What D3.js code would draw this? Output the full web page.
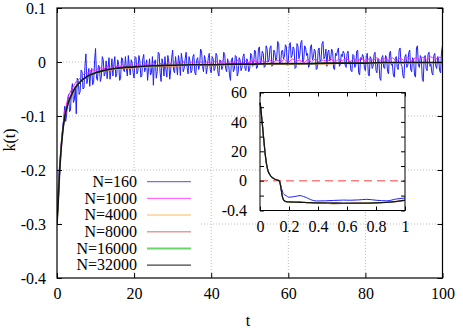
<!DOCTYPE html>
<html lang="en">
<head>
<meta charset="UTF-8">
<title>k(t)</title>
<script src="https://cdn.jsdelivr.net/npm/d3@7"></script>
<style>
    body{ margin:0; background:#fff; }
    svg text{ font-family:"Liberation Serif", "Times New Roman", "DejaVu Serif", serif; font-size:16px; fill:#000; }
    .grid line{ stroke:#bdbdbd; stroke-dasharray:1,2; stroke-width:1; }
    .tick line{ stroke:#000; }
    .curve{ fill:none; stroke-linejoin:round; }
</style>
</head>
<body>
<script>
    // legend / series
    const seriesNames = ["N=160", "N=1000", "N=4000", "N=8000", "N=16000", "N=32000"];
    const seriesColors = ["#1f1fff", "#ff22ff", "#ffaa33", "#e08484", "#44cc44", "#151515"];
    const seriesWidths = [1, 1, 1, 1.5, 2, 1.3];

    const xTicks = [0, 20, 40, 60, 80, 100];
    const yTicks = [0.1, 0, -0.1, -0.2, -0.3, -0.4];

    // N=160, sampled every 0.25 in t
    const tBlue = d3.range(0, 100.1, 0.25);
    const kBlue = [
        -0.290, -0.245, -0.205, -0.185, -0.160, -0.140, -0.118, -0.105, -0.082, -0.110, -0.098, -0.070, -0.060, -0.092, -0.089, -0.052, -0.040, -0.075, -0.070, -0.045,
        -0.096, -0.030, -0.035, -0.060, -0.055, -0.015, -0.018, -0.050, -0.048, -0.008, 0.015, -0.040, -0.030, -0.012, -0.045, -0.020, -0.012, -0.042, -0.038, 0.002,
        0.025, -0.030, -0.034, -0.006, -0.008, -0.036, -0.028, 0.010, 0.004, -0.026, -0.020, 0.002, -0.031, -0.010, 0.008, -0.032, -0.015, 0.006, -0.026, -0.004,
        0.010, -0.028, -0.022, 0.004, -0.004, -0.034, -0.030, 0.008, 0.006, -0.016, -0.018, 0.010, -0.012, -0.026, 0.012, -0.008, -0.024, 0.004, -0.002, -0.020,
        -0.030, 0.010, 0.008, -0.022, -0.016, 0.012, 0.002, -0.028, -0.026, 0.006, 0.014, -0.018, -0.010, 0.004, -0.034, -0.012, 0.006, -0.024, -0.020, 0.010,
        -0.043, 0.000, 0.004, -0.030, -0.018, 0.018, 0.016, -0.020, -0.036, 0.006, -0.004, -0.026, 0.010, -0.014, -0.028, 0.012, 0.000, -0.032, -0.014, 0.008,
        0.022, -0.016, -0.020, 0.010, -0.006, -0.024, 0.012, 0.000, -0.025, 0.016, 0.004, -0.018, -0.012, 0.006, 0.018, -0.010, -0.022, 0.010, 0.002, -0.020,
        -0.016, 0.010, 0.014, -0.020, -0.024, 0.004, 0.008, -0.014, -0.006, 0.024, 0.020, -0.008, -0.018, 0.012, 0.004, -0.022, -0.010, 0.008, 0.016, -0.014,
        -0.020, 0.010, 0.006, -0.016, -0.012, 0.016, 0.012, -0.020, -0.026, 0.004, 0.002, -0.014, -0.008, 0.018, 0.014, -0.012, -0.018, 0.006, -0.002, -0.024,
        -0.034, 0.004, 0.008, -0.018, -0.014, 0.012, 0.010, -0.026, -0.020, 0.008, 0.004, -0.016, -0.010, 0.010, 0.015, -0.012, -0.016, 0.006, 0.000, -0.018,
        -0.012, 0.016, 0.012, -0.008, -0.004, 0.022, 0.020, -0.012, -0.010, 0.024, 0.028, -0.004, 0.002, 0.020, 0.016, -0.010, -0.008, 0.030, 0.024, 0.000,
        0.004, 0.026, 0.030, -0.008, -0.006, 0.022, 0.018, 0.002, 0.008, 0.038, 0.034, -0.002, -0.004, 0.020, 0.022, 0.006, 0.010, 0.032, 0.028, -0.006,
        0.002, 0.030, 0.036, 0.008, 0.012, 0.028, 0.024, -0.012, -0.010, 0.034, 0.030, 0.006, 0.014, 0.036, 0.040, 0.000, 0.004, 0.030, 0.026, 0.012,
        0.016, -0.010, -0.006, 0.028, 0.032, 0.004, 0.008, 0.024, 0.020, -0.014, -0.012, 0.022, 0.026, 0.000, 0.004, 0.034, 0.038, 0.006, 0.010, 0.024,
        -0.008, 0.018, 0.022, 0.002, 0.006, 0.024, 0.018, -0.012, -0.014, 0.016, 0.012, 0.020, 0.026, -0.008, -0.004, 0.014, 0.010, 0.020, 0.016, -0.006,
        -0.010, 0.016, 0.020, -0.004, 0.002, -0.016, -0.018, 0.014, 0.012, -0.010, -0.006, 0.020, 0.022, -0.020, -0.024, 0.008, 0.004, 0.014, 0.010, -0.012,
        -0.016, 0.012, 0.016, -0.022, -0.026, 0.010, 0.006, -0.012, -0.008, 0.014, 0.018, -0.016, -0.020, 0.006, 0.002, -0.030, -0.034, 0.008, 0.012, -0.010,
        -0.012, 0.012, 0.008, -0.018, -0.022, 0.016, 0.020, -0.006, -0.004, -0.024, -0.028, 0.006, 0.010, -0.010, -0.014, 0.022, 0.026, -0.004, -0.008, -0.026,
        -0.030, 0.010, 0.014, -0.010, -0.006, 0.018, 0.022, -0.014, -0.018, 0.008, 0.004, -0.024, -0.028, 0.026, 0.030, -0.006, -0.010, 0.012, 0.008, -0.030,
        -0.036, 0.008, 0.012, -0.012, -0.016, 0.014, 0.018, -0.008, -0.004, -0.020, -0.024, 0.012, 0.016, -0.008, -0.012, 0.010, 0.006, -0.016, -0.020, 0.020,
        0.030
    ];

    // N=1000, sampled every 1 in t
    const tMagenta = d3.range(0, 101, 1);
    const kMagenta = [
        -0.298, -0.158, -0.092, -0.062, -0.048, -0.036, -0.030, -0.022, -0.020, -0.014,
        -0.016, -0.010, -0.014, -0.008, -0.012, -0.006, -0.011, -0.005, -0.010, -0.004,
        -0.009, -0.003, -0.008, -0.002, -0.007, -0.001, -0.008, -0.002, -0.006, 0.000,
        -0.007, -0.001, -0.005, 0.001, -0.006, 0.000, -0.004, 0.002, -0.005, 0.001,
        -0.004, 0.002, -0.003, 0.003, -0.004, 0.001, -0.002, 0.004, -0.003, 0.002,
        -0.002, 0.004, -0.003, 0.003, -0.001, 0.005, -0.002, 0.004, 0.000, 0.005,
        -0.001, 0.006, 0.001, 0.004, -0.002, 0.005, 0.000, 0.006, -0.001, 0.004,
        0.001, 0.006, -0.001, 0.005, 0.002, 0.007, 0.000, 0.006, 0.002, 0.007,
        0.001, 0.006, 0.003, 0.008, 0.002, 0.007, 0.003, 0.008, 0.002, 0.007,
        0.003, 0.009, 0.002, 0.008, 0.004, 0.009, 0.003, 0.010, 0.004, 0.009,
        0.008
    ];

    // larger N, smooth curves
    const tSmooth = [0, 0.3, 0.6, 1, 1.5, 2, 2.5, 3, 4, 5, 6, 7, 8, 10, 12, 15, 20, 25, 30, 35, 40,
                     45, 50, 55, 60, 65, 70, 75, 80, 85, 90, 95, 100];
    const kOrange = [-0.301, -0.263, -0.216, -0.169, -0.129, -0.103, -0.087, -0.075, -0.058, -0.046,
                     -0.038, -0.032, -0.027, -0.021, -0.017, -0.014, -0.011, -0.009, -0.008, -0.006,
                     -0.007, -0.005, -0.006, -0.004, -0.005, -0.003, -0.004, -0.002, -0.003, -0.002,
                     -0.003, -0.001, -0.002];
    const kSalmon = [-0.300, -0.262, -0.215, -0.168, -0.128, -0.102, -0.086, -0.074, -0.057, -0.046,
                     -0.037, -0.031, -0.026, -0.020, -0.016, -0.013, -0.010, -0.008, -0.007, -0.006,
                     -0.005, -0.005, -0.004, -0.004, -0.003, -0.003, -0.003, -0.002, -0.002, -0.002,
                     -0.001, -0.001, -0.001];
    const kGreen = [-0.300, -0.262, -0.215, -0.168, -0.128, -0.102, -0.086, -0.074, -0.057, -0.045,
                    -0.037, -0.031, -0.026, -0.020, -0.016, -0.012, -0.009, -0.007, -0.006, -0.005,
                    -0.005, -0.004, -0.004, -0.003, -0.003, -0.003, -0.002, -0.002, -0.002, -0.001,
                    -0.001, -0.001, -0.001];
    const kBlack = [-0.300, -0.262, -0.215, -0.168, -0.128, -0.102, -0.086, -0.074, -0.057, -0.045,
                    -0.037, -0.031, -0.026, -0.020, -0.016, -0.012, -0.009, -0.007, -0.006, -0.005,
                    -0.005, -0.004, -0.004, -0.003, -0.003, -0.003, -0.002, -0.002, -0.002, -0.001,
                    -0.001, -0.001, -0.001];

    // inset (0 <= t <= 1)
    const insetXTicks = [0, 0.2, 0.4, 0.6, 0.8, 1];
    const insetYTicks = [60, 40, 20, 0, -0.4];
    const insetYMinor = [50, 30, 10, -0.2];
    const insetT = [0, 0.006, 0.012, 0.018, 0.023, 0.029, 0.034, 0.04, 0.046, 0.055, 0.069, 0.085,
                    0.103, 0.12, 0.133, 0.138, 0.143, 0.148, 0.152, 0.157, 0.161, 0.17, 0.179, 0.2,
                    0.24, 0.276, 0.3, 0.322, 0.35, 0.391, 0.45, 0.506, 0.575, 0.62, 0.68, 0.736,
                    0.8, 0.874, 0.943, 1.0];
    const insetBlue = [53, 49, 42.5, 36.5, 31, 25, 19.7, 14.8, 10.7, 6.8, 3.9, 2.2,
                       1.0, 0.4, 0.0, -0.02, -0.06, -0.1, -0.127, -0.155, -0.175, -0.19, -0.2, -0.222,
                       -0.212, -0.2, -0.212, -0.228, -0.255, -0.272, -0.27, -0.265, -0.26, -0.262, -0.258, -0.25,
                       -0.262, -0.27, -0.245, -0.232];
    const insetLarge = [53, 49, 42.5, 36.5, 31, 25, 19.7, 14.8, 10.7, 6.8, 3.9, 2.2,
                        1.0, 0.4, 0.0, -0.03, -0.08, -0.14, -0.19, -0.23, -0.252, -0.272, -0.28, -0.285,
                        -0.287, -0.29, -0.292, -0.294, -0.296, -0.3, -0.305, -0.308, -0.306, -0.304, -0.303, -0.302,
                        -0.298, -0.29, -0.28, -0.265];
    const insetBlack = [53, 49, 42.5, 36.5, 31, 25, 19.7, 14.8, 10.7, 6.8, 3.9, 2.2,
                        1.0, 0.4, 0.0, -0.03, -0.08, -0.14, -0.19, -0.23, -0.252, -0.272, -0.28, -0.285,
                        -0.287, -0.289, -0.291, -0.293, -0.295, -0.297, -0.298, -0.299, -0.3, -0.301, -0.302, -0.302,
                        -0.298, -0.29, -0.278, -0.262];

    const width = 463, height = 331;
    const margins = {top: 8, bottom: 53, left: 57, right: 20.5};

    const svg = d3.select("body").append("svg")
        .attr("width", width).attr("height", height)
        .attr("viewBox", `0 0 ${width} ${height}`);

    const xScale = d3.scaleLinear().domain([0, 100]).range([margins.left, width - margins.right]);
    const yScale = d3.scaleLinear().domain([-0.4, 0.1]).range([height - margins.bottom, margins.top]);
    const x0 = xScale.range()[0], x1 = xScale.range()[1];
    const yB = yScale.range()[0], yT = yScale.range()[1];

    svg.append("defs").append("clipPath").attr("id", "plotclip")
        .append("rect").attr("x", x0).attr("y", yT).attr("width", x1 - x0).attr("height", yB - yT);

    // grid
    const grid = svg.append("g").attr("class", "grid");
    grid.selectAll(".gx").data(xTicks.slice(1, -1)).enter().append("line")
        .attr("x1", d => xScale(d)).attr("x2", d => xScale(d))
        .attr("y1", yT).attr("y2", yB);
    grid.selectAll(".gy").data(yTicks.slice(1, -1)).enter().append("line")
        .attr("x1", x0).attr("x2", x1)
        .attr("y1", d => yScale(d)).attr("y2", d => yScale(d));

    // curves
    const mainLine = d3.line().x(d => xScale(d[0])).y(d => yScale(d[1]));
    const smoothLine = d3.line().x(d => xScale(d[0])).y(d => yScale(d[1])).curve(d3.curveMonotoneX);
    const mainSeries = [
        {pts: d3.zip(tBlue, kBlue), line: mainLine},
        {pts: d3.zip(tMagenta, kMagenta), line: mainLine},
        {pts: d3.zip(tSmooth, kOrange), line: smoothLine},
        {pts: d3.zip(tSmooth, kSalmon), line: smoothLine},
        {pts: d3.zip(tSmooth, kGreen), line: smoothLine},
        {pts: d3.zip(tSmooth, kBlack), line: smoothLine}
    ];
    const curves = svg.append("g").attr("clip-path", "url(#plotclip)");
    mainSeries.forEach((s, i) => {
        curves.append("path")
            .datum(s.pts)
            .attr("class", "curve")
            .attr("stroke", seriesColors[i])
            .attr("stroke-width", i === 3 || i === 4 ? 1.2 : (i === 5 ? 1.6 : 1))
            .attr("d", s.line);
    });

    // legend (opaque key)
    const legendBox = svg.append("g");
    legendBox.append("rect")
        .attr("x", 62).attr("y", 173).attr("width", 137).attr("height", 99)
        .attr("fill", "#fff");
    const legend = legendBox.selectAll(".item").data(seriesNames).enter().append("g")
        .attr("transform", (d, i) => `translate(0,${181.7 + i * 16.67})`);
    legend.append("text")
        .attr("x", 137).attr("dy", "0.33em")
        .attr("text-anchor", "end")
        .text(d => d);
    legend.append("line")
        .attr("x1", 147).attr("x2", 191)
        .attr("stroke", (d, i) => seriesColors[i])
        .attr("stroke-width", (d, i) => seriesWidths[i])
        .attr("opacity", 0.8);

    // axes
    const fmt = d => String(d);
    const axB = svg.append("g").attr("transform", `translate(0,${yB})`)
        .call(d3.axisBottom(xScale).tickValues(xTicks).tickSize(-5).tickPadding(10).tickFormat(fmt));
    const axT = svg.append("g").attr("transform", `translate(0,${yT})`)
        .call(d3.axisTop(xScale).tickValues(xTicks).tickSize(-5).tickFormat(""));
    const axL = svg.append("g").attr("transform", `translate(${x0},0)`)
        .call(d3.axisLeft(yScale).tickValues(yTicks).tickSize(-5).tickPadding(11).tickFormat(fmt));
    const axR = svg.append("g").attr("transform", `translate(${x1},0)`)
        .call(d3.axisRight(yScale).tickValues(yTicks).tickSize(-5).tickFormat(""));
    [axB, axT, axL, axR].forEach(a => {
        a.attr("font-family", null).attr("font-size", null);
        a.select(".domain").remove();
    });
    axL.selectAll("text").attr("dy", "0.33em");

    // frame
    svg.append("rect")
        .attr("x", x0).attr("y", yT).attr("width", x1 - x0).attr("height", yB - yT)
        .attr("fill", "none").attr("stroke", "#000").attr("stroke-width", 1.2);

    // inset
    const ixScale = d3.scaleLinear().domain([0, 1]).range([260, 405]);
    const iyScale = d3.scaleLinear().domain([-0.4, 0, 60]).range([210.5, 180.7, 92.5]);
    const ix0 = 260, ix1 = 405, iyT = 92.5, iyB = 210.5;
    const inset = svg.append("g");
    inset.append("rect")
        .attr("x", ix0).attr("y", iyT).attr("width", ix1 - ix0).attr("height", iyB - iyT)
        .attr("fill", "#fff");
    inset.append("line")
        .attr("x1", ix0).attr("x2", ix1)
        .attr("y1", iyScale(0)).attr("y2", iyScale(0))
        .attr("stroke", "#ff8080").attr("stroke-width", 1.5)
        .attr("stroke-dasharray", "8,5");

    const insetLine = d3.line().x(d => ixScale(d[0])).y(d => iyScale(d[1])).curve(d3.curveMonotoneX);
    const insetSeries = [insetBlue, insetLarge, insetLarge, insetLarge, insetLarge, insetBlack];
    insetSeries.forEach((vals, i) => {
        inset.append("path")
            .datum(d3.zip(insetT, vals))
            .attr("class", "curve")
            .attr("stroke", seriesColors[i])
            .attr("stroke-width", i === 5 ? 1.3 : 1)
            .attr("d", insetLine);
    });

    const iaxB = inset.append("g").attr("transform", `translate(0,${iyB})`)
        .call(d3.axisBottom(ixScale).tickValues(insetXTicks).tickSize(-4).tickPadding(10).tickFormat(fmt));
    const iaxT = inset.append("g").attr("transform", `translate(0,${iyT})`)
        .call(d3.axisTop(ixScale).tickValues(insetXTicks).tickSize(-4).tickFormat(""));
    const iaxL = inset.append("g").attr("transform", `translate(${ix0},0)`)
        .call(d3.axisLeft(iyScale).tickValues(insetYTicks).tickSize(-4).tickPadding(13).tickFormat(fmt));
    const iaxL2 = inset.append("g").attr("transform", `translate(${ix0},0)`)
        .call(d3.axisLeft(iyScale).tickValues(insetYMinor).tickSize(-4).tickFormat(""));
    const iaxR = inset.append("g").attr("transform", `translate(${ix1},0)`)
        .call(d3.axisRight(iyScale).tickValues(insetYTicks.concat(insetYMinor)).tickSize(-4).tickFormat(""));
    [iaxB, iaxT, iaxL, iaxL2, iaxR].forEach(a => {
        a.attr("font-family", null).attr("font-size", null);
        a.select(".domain").remove();
    });
    iaxL.selectAll("text").attr("dy", "0.33em");

    inset.append("rect")
        .attr("x", ix0).attr("y", iyT).attr("width", ix1 - ix0).attr("height", iyB - iyT)
        .attr("fill", "none").attr("stroke", "#000").attr("stroke-width", 1);

    // axis titles
    svg.append("text")
        .attr("transform", "translate(15,140) rotate(-90)")
        .attr("text-anchor", "middle")
        .text("k(t)");
    svg.append("text")
        .attr("x", 248).attr("y", 326)
        .attr("text-anchor", "middle")
        .text("t");
</script>
</body>
</html>
